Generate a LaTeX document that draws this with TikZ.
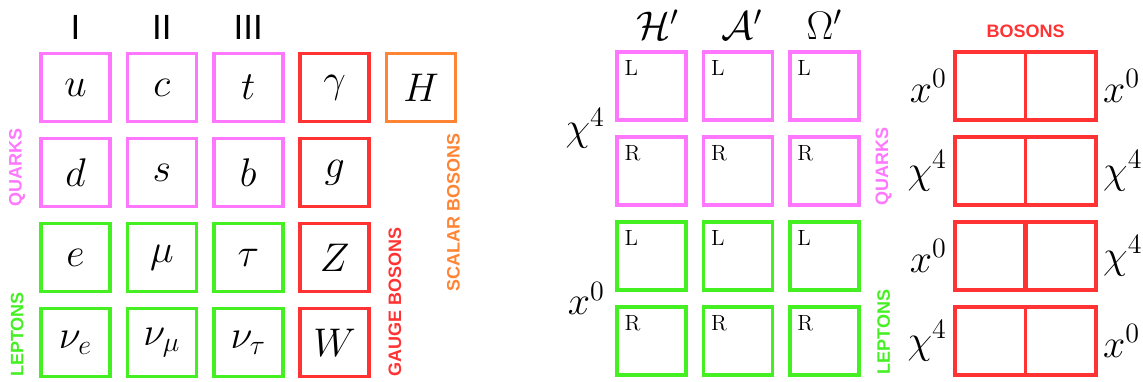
\RequirePackage{fix-cm}
\documentclass[tikz,border=0pt]{standalone}
\usepackage{fontspec}
\setsansfont{Liberation Sans}
\usetikzlibrary{positioning, calc}

\definecolor{quarkpink}{HTML}{FF77FF}
\definecolor{leptongreen}{HTML}{44F022}
\definecolor{gaugered}{HTML}{FF3333}
\definecolor{scalarorange}{HTML}{FF8433}

\begin{document}
\begin{tikzpicture}[
        x=0.5pt, y=0.5pt,
        node distance=6.7pt and 6.9pt,
        pbox/.style={draw, line width=1.8pt, minimum width=34.5pt,
                     minimum height=34pt, inner sep=0pt,
                     font=\fontsize{20}{24}\selectfont},
        quark/.style={pbox, draw=quarkpink},
        lepton/.style={pbox, draw=leptongreen},
        gauge/.style={pbox, draw=gaugered},
        scalar/.style={pbox, draw=scalarorange},
        wbox/.style={pbox, minimum width=70.5pt, draw=gaugered},
        tag/.style={label={[inner sep=0pt, anchor=north west, xshift=4.5pt,
                     yshift=-5pt, font=\fontsize{11}{13}\selectfont]north west:#1}},
        gen/.style={inner sep=0pt, font=\sffamily\fontsize{17.5}{20}\selectfont},
        head/.style={inner sep=0pt, font=\fontsize{20}{24}\selectfont},
        side/.style={inner sep=0pt, font=\fontsize{20}{24}\selectfont},
        hlabel/.style={inner sep=0pt, font=\sffamily\bfseries\fontsize{9}{10}\selectfont},
        vlabel/.style={hlabel, rotate=90, anchor=west}
    ]
        \useasboundingbox (0,0) rectangle (1143,-381);

        % standard model
        \node[quark] (u) at (75.5,-87.5) {$u$};
        \node[quark, right=of u] (c) {$c$};
        \node[quark, right=of c] (t) {$t$};
        \node[gauge, right=of t] (gam) {$\gamma$};
        \node[scalar, right=of gam] (H) {$H$};
        \node[quark, below=of u] (d) {$d$};
        \node[quark, right=of d] (s) {$s$};
        \node[quark, right=of s] (b) {$b$};
        \node[gauge, right=of b] (g) {$g$};
        \node[lepton, below=of d] (e) {$e$};
        \node[lepton, right=of e] (mu) {$\mu$};
        \node[lepton, right=of mu] (tau) {$\tau$};
        \node[gauge, right=of tau] (Z) {$Z$};
        \node[lepton, below=of e] (nue) {$\nu_e$};
        \node[lepton, right=of nue] (numu) {$\nu_\mu$};
        \node[lepton, right=of numu] (nutau) {$\nu_\tau$};
        \node[gauge, right=of nutau] (W) {$W$};

        \node[gen, above=6pt of u] (gI) {I};
        \node[gen, above=6pt of c] (gII) {II};
        \node[gen, above=6pt of t] (gIII) {III};

        \node[vlabel, text=quarkpink] (quarksL) at ([xshift=-11pt, yshift=0.5pt]d.south west) {QUARKS};
        \node[vlabel, text=leptongreen] (leptonsL) at ([xshift=-11pt, yshift=0.5pt]nue.south west) {LEPTONS};
        \node[vlabel, text=gaugered] (gaugeL) at ([xshift=12pt, yshift=0.5pt]W.south east) {GAUGE BOSONS};
        \node[vlabel, text=scalarorange] (scalarL) at ([xshift=-2pt, yshift=0.5pt]H.east |- Z.south) {SCALAR BOSONS};

        % fermion slots
        \node[quark, tag=L] (h1) at (651.5,-86) {};
        \node[quark, tag=L, right=of h1] (a1) {};
        \node[quark, tag=L, right=of a1] (o1) {};
        \node[quark, tag=R, below=of h1] (h2) {};
        \node[quark, tag=R, right=of h2] (a2) {};
        \node[quark, tag=R, right=of a2] (o2) {};
        \node[lepton, tag=L, below=of h2] (h3) {};
        \node[lepton, tag=L, right=of h3] (a3) {};
        \node[lepton, tag=L, right=of a3] (o3) {};
        \node[lepton, tag=R, below=of h3] (h4) {};
        \node[lepton, tag=R, right=of h4] (a4) {};
        \node[lepton, tag=R, right=of a4] (o4) {};

        \node[head, above=5pt of h1, xshift=3pt] (hH) {$\mathcal{H}'$};
        \node[head, above=5pt of a1, xshift=2pt] (hA) {$\mathcal{A}'$};
        \node[head, above=5pt of o1] (hO) {$\Omega'$};

        \node[side, anchor=east] (chiq) at ($(h1.south west)!.5!(h2.north west)+(-10,0)$) {$\chi^4$};
        \node[side, anchor=east] (xl) at ($(h3.south west)!.5!(h4.north west)+(-10,0)$) {$x^0$};

        \node[vlabel, text=quarkpink] (quarksM) at ([xshift=11.5pt, yshift=0.5pt]o2.south east) {QUARKS};
        \node[vlabel, text=leptongreen] (leptonsM) at ([xshift=11.5pt, yshift=1pt]o4.south east) {LEPTONS};

        % boson slots
        \node[wbox] (b1) at (1025.5,-86) {};
        \node[wbox, below=of b1] (b2) {};
        \node[wbox, below=of b2] (b3) {};
        \node[wbox, below=of b3] (b4) {};
        \draw[line width=1.8pt, gaugered] (b1.north) -- (b1.south);
        \draw[line width=1.8pt, gaugered] (b2.north) -- (b2.south);
        \draw[line width=2.2pt, gaugered] (b3.north) -- (b3.south);
        \draw[line width=1.8pt, gaugered] (b4.north) -- (b4.south);

        \node[hlabel, text=gaugered, above=6pt of b1] (bosons) {BOSONS};

        \node[side, left=3pt of b1] (b1l) {$x^0$};
        \node[side, right=2.5pt of b1] (b1r) {$x^0$};
        \node[side, left=3pt of b2] (b2l) {$\chi^4$};
        \node[side, right=2.5pt of b2] (b2r) {$\chi^4$};
        \node[side, left=3pt of b3] (b3l) {$x^0$};
        \node[side, right=2.5pt of b3] (b3r) {$\chi^4$};
        \node[side, left=3pt of b4] (b4l) {$\chi^4$};
        \node[side, right=2.5pt of b4] (b4r) {$x^0$};
    \end{tikzpicture}
\end{document}
